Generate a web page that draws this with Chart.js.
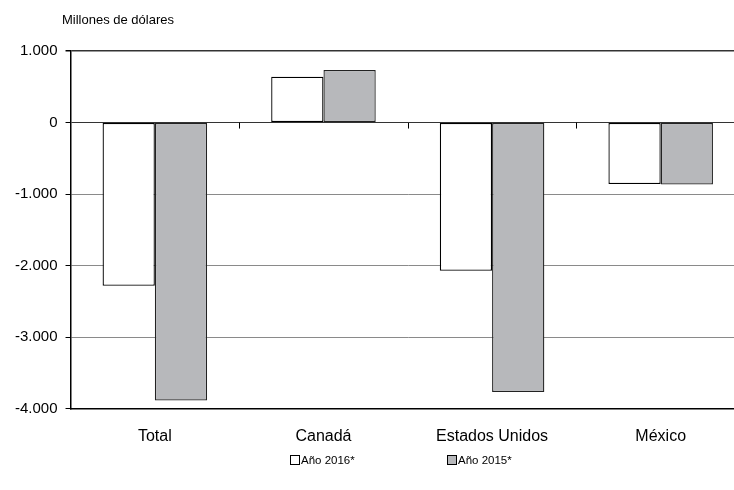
<!DOCTYPE html>
<html>
<head>
<meta charset="utf-8">
<script src="https://cdn.jsdelivr.net/npm/chart.js@4.4.1/dist/chart.umd.min.js"></script>
<style>
  html, body { margin: 0; padding: 0; background: #fff; overflow: hidden; }
  #wrap { position: relative; width: 760px; height: 490px; }
  #unit { position: absolute; left: 62px; top: 12px; font: 13px "Liberation Sans", Arial, sans-serif; color: #000; }
  .leg { position: absolute; top: 454px; font: 11.5px "Liberation Sans", Arial, sans-serif; color: #000; white-space: nowrap; }
  .leg i { display: inline-block; width: 8px; height: 8px; border: 1px solid #000; margin-right: 1px; vertical-align: -1px; }
</style>
</head>
<body>
<div id="wrap">
  <div id="unit">Millones de dólares</div>
  <canvas id="chart1" width="760" height="490"></canvas>
  <div id="legend"></div>
</div>
<script>
"use strict";
// Datos (millones de dólares)
const categories = ['Total', 'Canadá', 'Estados Unidos', 'México'];
const serie2016 = [-2280, 640, -2070, -860];
const serie2015 = [-3885, 735, -3765, -865];
const labelsSeries = ['Año 2016*', 'Año 2015*'];
const yTicks = [1000, 0, -1000, -2000, -3000, -4000];

const FONT = '"Liberation Sans", Arial, sans-serif';
const GRAY = '#b7b8bb';
const colores = ['#ffffff', GRAY];
const legendLeft = [290, 447];

// marcas del eje de categorías sobre la línea del cero
const zeroTicks = {
    id: 'zeroTicks',
    afterDatasetsDraw(chart) {
        const x = chart.scales.x;
        const y0 = chart.scales.y.getPixelForValue(0);
        const ctx = chart.ctx;
        ctx.save();
        ctx.strokeStyle = '#000';
        ctx.lineWidth = 1;
        for (let i = 0; i < categories.length - 1; i++) {
            const xp = (x.getPixelForValue(i) + x.getPixelForValue(i + 1)) / 2;
            ctx.beginPath();
            ctx.moveTo(Math.round(xp) + 0.5, y0);
            ctx.lineTo(Math.round(xp) + 0.5, y0 + 6);
            ctx.stroke();
        }
        ctx.restore();
    }
};

new Chart(document.getElementById('chart1'), {
    type: 'bar',
    data: {
        labels: categories,
        datasets: [{
            label: labelsSeries[0],
            data: serie2016,
            backgroundColor: colores[0],
            borderColor: '#000',
            borderWidth: 1.3,
            borderSkipped: false,
            barPercentage: 1,
            categoryPercentage: 0.62
        }, {
            label: labelsSeries[1],
            data: serie2015,
            backgroundColor: colores[1],
            borderColor: '#222',
            borderWidth: 1.3,
            borderSkipped: false,
            barPercentage: 1,
            categoryPercentage: 0.62
        }]
    },
    options: {
        responsive: false,
        animation: false,
        layout: { padding: { top: 51, right: 15, left: 7, bottom: 26 } },
        plugins: {
            tooltip: { enabled: false },
            legend: { display: false }
        },
        scales: {
            x: {
                grid: { display: false, drawTicks: false },
                border: { color: '#000', width: 1.5 },
                ticks: { font: { family: FONT, size: 16 }, color: '#000', padding: 18 }
            },
            y: {
                min: -4000,
                max: 1000,
                afterBuildTicks: s => { s.ticks = yTicks.map(v => ({ value: v })); },
                grid: {
                    color: ctx => (ctx.tick && (ctx.tick.value === 1000 || ctx.tick.value === 0)) ? '#333' : '#8a8a8a',
                    lineWidth: ctx => (ctx.tick && ctx.tick.value === 1000) ? 1.5 : 1,
                    tickColor: '#000',
                    tickLength: 5
                },
                border: { color: '#000', width: 1.5 },
                ticks: {
                    font: { family: FONT, size: 15 },
                    color: '#000',
                    padding: 8,
                    callback: v => v.toLocaleString('de-DE')
                }
            }
        }
    },
    plugins: [zeroTicks]
});

// leyenda
const legend = document.getElementById('legend');
labelsSeries.forEach((t, i) => {
    const d = document.createElement('div');
    d.className = 'leg';
    d.style.left = legendLeft[i] + 'px';
    d.innerHTML = '<i style="background:' + colores[i] + '"></i>' + t;
    legend.appendChild(d);
});
</script>
</body>
</html>
